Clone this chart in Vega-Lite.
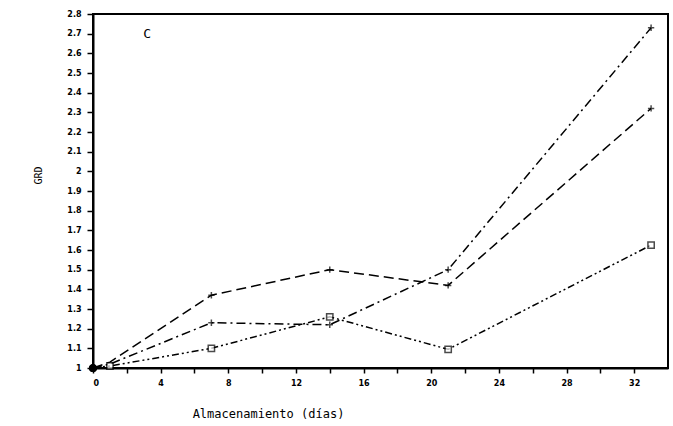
{
  "$schema": "https://vega.github.io/schema/vega-lite/v6.json",
  "width": 575,
  "height": 354,
  "autosize": "none",
  "padding": {"left": 93, "top": 14, "right": 5, "bottom": 58},
  "background": "white",
  "config": {"view": {"stroke": "black", "strokeWidth": 2}},
  "datasets": {
    "pts": [
      {"serie": "A", "dia": 0, "grd": 1.0},
      {"serie": "A", "dia": 1, "grd": 1.03},
      {"serie": "A", "dia": 7, "grd": 1.37},
      {"serie": "A", "dia": 14, "grd": 1.5},
      {"serie": "A", "dia": 21, "grd": 1.42},
      {"serie": "A", "dia": 33, "grd": 2.32},
      {"serie": "B", "dia": 0, "grd": 1.0},
      {"serie": "B", "dia": 1, "grd": 1.02},
      {"serie": "B", "dia": 7, "grd": 1.23},
      {"serie": "B", "dia": 14, "grd": 1.22},
      {"serie": "B", "dia": 21, "grd": 1.5},
      {"serie": "B", "dia": 33, "grd": 2.73},
      {"serie": "C", "dia": 0, "grd": 1.0},
      {"serie": "C", "dia": 1, "grd": 1.01},
      {"serie": "C", "dia": 7, "grd": 1.1},
      {"serie": "C", "dia": 14, "grd": 1.26},
      {"serie": "C", "dia": 21, "grd": 1.095},
      {"serie": "C", "dia": 33, "grd": 1.625}
    ],
    "lbl": [{"dia": 3.2, "grd": 2.7, "t": "C"}]
  },
  "encoding": {
    "x": {
      "field": "dia", "type": "quantitative",
      "scale": {"domain": [0, 34], "nice": false, "zero": false},
      "axis": {
        "values": [0, 2, 4, 6, 8, 10, 12, 14, 16, 18, 20, 22, 24, 26, 28, 30, 32],
        "labelExpr": "datum.value % 4 == 0 ? datum.label : ''",
        "labelOverlap": false, "labelBound": false,
        "grid": false, "domainColor": "black", "domainWidth": 2,
        "tickColor": "black", "tickSize": 5, "tickWidth": 1.5,
        "labelFont": "DejaVu Sans", "labelFontWeight": "bold", "labelFontSize": 8, "labelColor": "black",
        "labelPadding": 6,
        "title": "Almacenamiento (días)",
        "titleFont": "DejaVu Sans Mono", "titleFontWeight": "normal", "titleFontSize": 12, "titleColor": "black",
        "titleX": 175, "titleY": 40, "titleAnchor": "middle"
      }
    },
    "y": {
      "field": "grd", "type": "quantitative",
      "scale": {"domain": [1, 2.8], "nice": false, "zero": false},
      "axis": {
        "values": [1, 1.1, 1.2, 1.3, 1.4, 1.5, 1.6, 1.7, 1.8, 1.9, 2, 2.1, 2.2, 2.3, 2.4, 2.5, 2.6, 2.7, 2.8],
        "format": ".1~f",
        "labelOverlap": false, "labelBound": false,
        "grid": false, "domainColor": "black", "domainWidth": 2,
        "tickColor": "black", "tickSize": 6, "tickWidth": 1.5,
        "labelFont": "DejaVu Sans", "labelFontWeight": "bold", "labelFontSize": 8, "labelColor": "black",
        "labelPadding": 6,
        "title": "GRD",
        "titleFont": "DejaVu Sans Mono", "titleFontWeight": "normal", "titleFontSize": 10, "titleColor": "black",
        "titleX": -50, "titleY": 161, "titleAngle": -90, "titleAnchor": "middle"
      }
    }
  },
  "layer": [
    {
      "data": {"name": "pts"},
      "mark": {"type": "line", "color": "black", "strokeWidth": 1.5},
      "encoding": {
        "detail": {"field": "serie"},
        "strokeDash": {
          "field": "serie", "type": "nominal", "legend": null,
          "scale": {"domain": ["A", "B", "C"], "range": [[10, 5], [9, 4, 2, 4], [7, 3, 2, 3, 2, 3]]}
        }
      }
    },
    {
      "data": {"name": "pts"},
      "transform": [{"filter": "datum.serie != 'C' && datum.dia > 1"}],
      "mark": {"type": "point", "shape": "M-1,0L1,0M0,-1L0,1", "size": 40, "color": "black", "strokeWidth": 1.5, "filled": false}
    },
    {
      "data": {"name": "pts"},
      "transform": [{"filter": "datum.serie == 'C' && datum.dia > 0"}],
      "mark": {"type": "square", "size": 40, "color": "black", "filled": false, "strokeWidth": 1.5, "fill": "white"}
    },
    {
      "data": {"name": "pts"},
      "transform": [{"filter": "datum.dia == 0"}],
      "mark": {"type": "circle", "size": 60, "color": "black", "opacity": 1}
    },
    {
      "data": {"name": "lbl"},
      "mark": {"type": "text", "font": "DejaVu Sans Mono", "fontSize": 13, "fontWeight": "normal", "color": "black"},
      "encoding": {
        "text": {"field": "t"}
      }
    }
  ]
}
